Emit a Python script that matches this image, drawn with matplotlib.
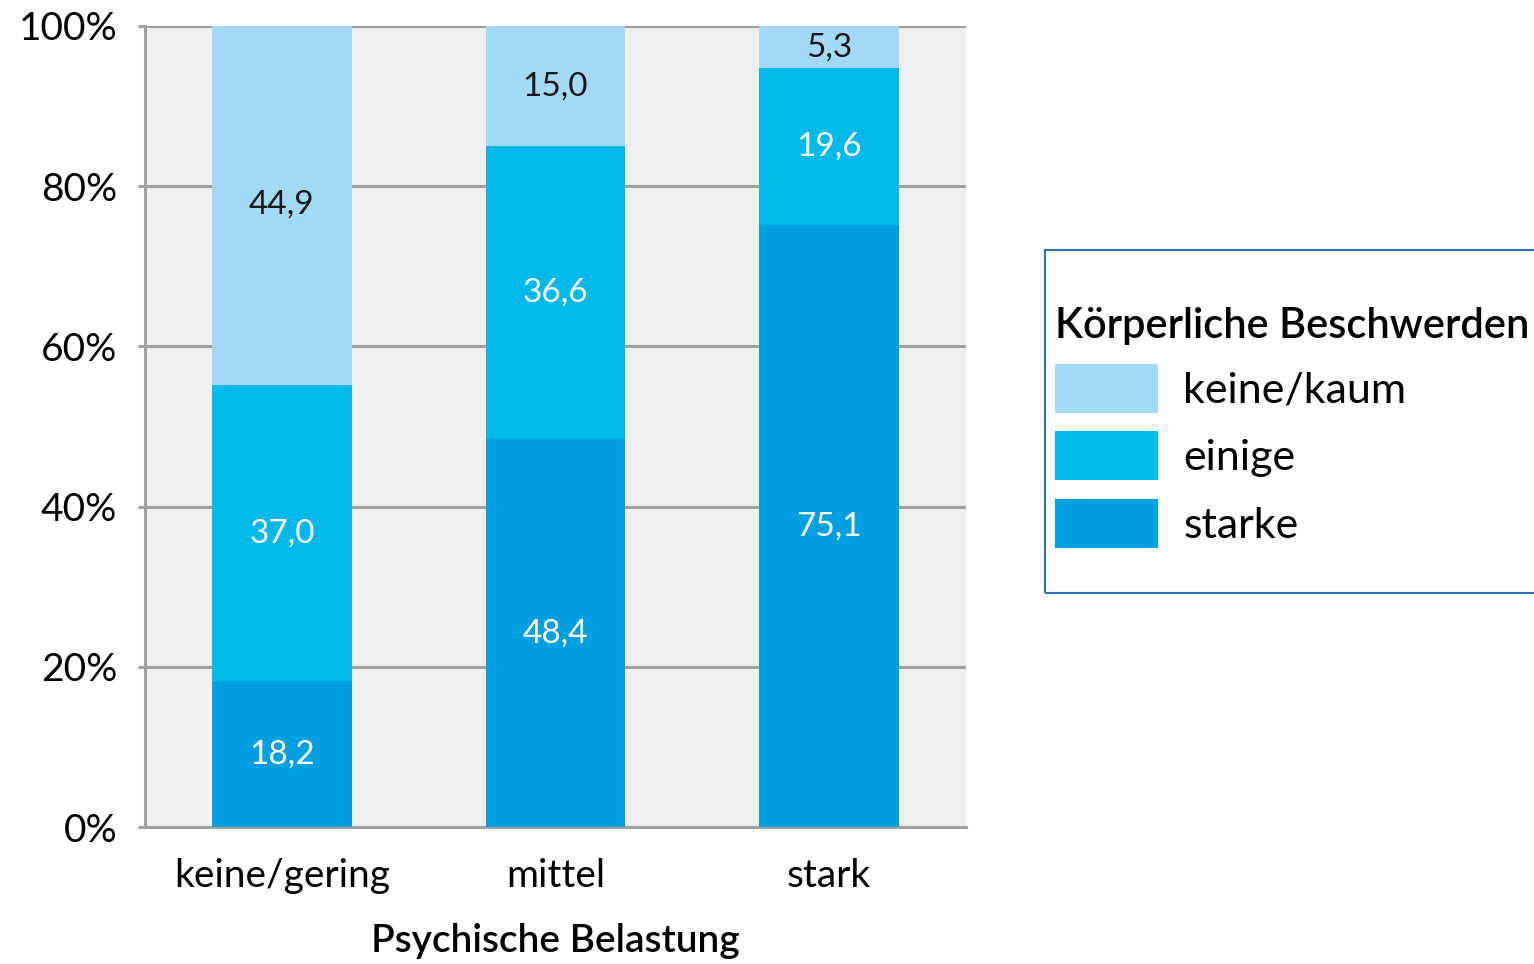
import matplotlib
matplotlib.use("Agg")
import matplotlib.pyplot as plt
import numpy as np
from matplotlib.patches import Patch, Rectangle

plt.rcParams['font.family'] = ['Lato', 'DejaVu Sans']

categories = ["keine/gering", "mittel", "stark"]
starke = [18.2, 48.4, 75.1]
einige = [37.0, 36.6, 19.6]
keine_kaum = [44.9, 15.0, 5.3]
series_names = ["keine/kaum", "einige", "starke"]
y_ticks = [0, 20, 40, 60, 80, 100]
y_tick_labels = ["0%", "20%", "40%", "60%", "80%", "100%"]

col_dark = "#009fe0"
col_mid = "#00b9ea"
col_light = "#a3d9f5"
grid_col = "#a0a0a0"

W, H = 1534, 964
fig = plt.figure(figsize=(W/100, H/100), dpi=100)
ax = fig.add_axes([145/W, 1-827/H, (966-145)/W, (827-26)/H])
ax.set_facecolor("#efefef")

x = np.arange(len(categories))
w = 0.51
b1 = ax.bar(x, starke, w, color=col_dark, zorder=3)
bottom2 = np.array(starke)
b2 = ax.bar(x, einige, w, bottom=bottom2, color=col_mid, zorder=3)
bottom3 = bottom2 + np.array(einige)
b3 = ax.bar(x, keine_kaum, w, bottom=bottom3, color=col_light, zorder=3)

def label(bars, vals, bottoms, color):
    for rect, v, b in zip(bars, vals, bottoms):
        ax.text(rect.get_x() + rect.get_width()/2, b + v/2,
                f"{v:.1f}".replace(".", ","), ha="center", va="center",
                color=color, fontsize=24, zorder=4)

label(b1, starke, np.zeros(3), "white")
label(b2, einige, bottom2, "white")
label(b3, keine_kaum, bottom3, "#1a1a1a")

ax.set_xlim(-0.5, 2.5)
ax.set_ylim(0, 100)
ax.set_yticks(y_ticks)
ax.set_yticklabels(y_tick_labels, fontsize=28)
ax.set_xticks(x)
ax.set_xticklabels(categories, fontsize=28)
ax.tick_params(axis="x", length=0, pad=22)
ax.tick_params(axis="y", length=5, width=2.2, color=grid_col, pad=15)
ax.yaxis.grid(True, color=grid_col, linewidth=2.2, zorder=1)
ax.set_axisbelow(True)
for s in ["top", "right"]:
    ax.spines[s].set_visible(False)
for s in ["left", "bottom"]:
    ax.spines[s].set_color(grid_col)
    ax.spines[s].set_linewidth(2.2)
ax.set_xlabel("Psychische Belastung", fontsize=28, fontweight="semibold",
              labelpad=21)

# legend frame
fig.patches.append(Rectangle((1045/W, 1-593/H), (1545-1045)/W, (593-250)/H,
                             transform=fig.transFigure, fill=False,
                             edgecolor="#2a74b8", linewidth=1.5, zorder=5))

handles = [Patch(facecolor=col_light), Patch(facecolor=col_mid), Patch(facecolor=col_dark)]
fs = 31
pad = 0.65
pad_px = pad * fs * 100 / 72
leg = fig.legend(handles, series_names, title="Körperliche Beschwerden",
                 loc="upper left",
                 bbox_to_anchor=((1055 - pad_px)/W, 1-(307 - pad_px)/H),
                 fontsize=fs, title_fontsize=30, frameon=False,
                 handlelength=2.4, handleheight=1.36, labelspacing=0.44,
                 handletextpad=0.58, borderpad=pad, borderaxespad=0,
                 alignment="left")
leg.get_title().set_fontweight("semibold")

fig.savefig("out.png", dpi=100)
